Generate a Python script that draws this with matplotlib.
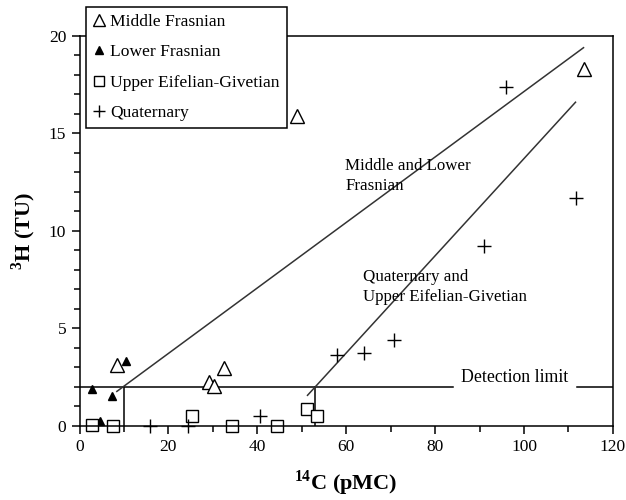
import matplotlib
matplotlib.use("Agg")
import matplotlib.pyplot as plt
from matplotlib.ticker import MultipleLocator

plt.rcParams["font.family"] = ["Liberation Serif", "DejaVu Serif"]
plt.rcParams["mathtext.fontset"] = "custom"
plt.rcParams["mathtext.rm"] = "Liberation Serif"
plt.rcParams["mathtext.bf"] = "Liberation Serif:bold"

# Middle Frasnian (open triangles)
mid_x = [8.4, 29.1, 30.2, 32.4, 49.0, 113.4]
mid_y = [3.1, 2.25, 2.05, 2.95, 15.9, 18.3]
# Lower Frasnian (filled triangles)
low_x = [2.9, 4.6, 7.4, 10.5]
low_y = [1.85, 0.25, 1.5, 3.3]
# Upper Eifelian-Givetian (open squares)
upp_x = [2.7, 7.6, 25.3, 34.3, 44.4, 51.1, 53.4]
upp_y = [0.05, 0.0, 0.5, 0.0, 0.0, 0.85, 0.5]
# Quaternary (plus)
qua_x = [15.9, 24.5, 40.5, 58.0, 64.0, 70.8, 90.9, 96.0, 111.6]
qua_y = [0.0, 0.0, 0.5, 3.6, 3.7, 4.4, 9.2, 17.4, 11.7]

# trend lines
frasnian_line_x = [8.4, 113.4]
frasnian_line_y = [1.75, 19.4]
quaternary_line_x = [51.3, 111.6]
quaternary_line_y = [1.55, 16.6]

detection_limit = 2
cut_x = [10, 53]

fig = plt.figure(figsize=(6.26, 5), dpi=100)
ax = fig.add_axes([0.127, 0.149, 0.852, 0.779])

ax.set_xlim(0, 120)
ax.set_ylim(0, 20)

# detection limit line with gap for label
ax.plot([0, 84], [detection_limit] * 2, color="black", lw=1.1)
ax.plot([112, 120], [detection_limit] * 2, color="black", lw=1.1)
ax.text(98, detection_limit + 0.05, "Detection limit", ha="center",
        va="bottom", fontsize=12.8)
for cx in cut_x:
    ax.plot([cx, cx], [0, detection_limit], color="black", lw=1.1)

ax.plot(frasnian_line_x, frasnian_line_y, color="#333333", lw=1.1)
ax.plot(quaternary_line_x, quaternary_line_y, color="#333333", lw=1.1)

ax.text(59.8, 13.75, "Middle and Lower\nFrasnian", ha="left", va="top",
        fontsize=12.2, linespacing=1.35)
ax.text(63.8, 8.05, "Quaternary and\nUpper Eifelian-Givetian", ha="left",
        va="top", fontsize=12.2, linespacing=1.35)

ax.plot(mid_x, mid_y, "^", ms=10, mfc="white", mec="black", mew=1.0,
        ls="none", clip_on=False, label="Middle Frasnian")
ax.plot(low_x, low_y, "^", ms=6, mfc="black", mec="black",
        ls="none", clip_on=False, label="Lower Frasnian")
ax.plot(upp_x, upp_y, "s", ms=8, mfc="white", mec="black", mew=1.0,
        ls="none", clip_on=False, label="Upper Eifelian-Givetian")
ax.plot(qua_x, qua_y, "+", ms=10, mec="black", mew=1.0,
        ls="none", clip_on=False, label="Quaternary")

ax.xaxis.set_major_locator(MultipleLocator(20))
ax.xaxis.set_minor_locator(MultipleLocator(10))
ax.yaxis.set_major_locator(MultipleLocator(5))
ax.yaxis.set_minor_locator(MultipleLocator(1))
ax.tick_params(which="major", direction="out", length=6, width=1.1,
               labelsize=12.5)
ax.tick_params(which="minor", direction="out", length=4, width=1.1)
for s in ax.spines.values():
    s.set_linewidth(1.1)

ax.set_xlabel(r"$^{\mathbf{14}}$C (pMC)", fontsize=16, fontweight="bold",
              labelpad=10)
ax.set_ylabel(r"$^{\mathbf{3}}$H (TU)", fontsize=16, fontweight="bold",
              labelpad=8)

leg = ax.legend(loc="upper left", bbox_to_anchor=(0.137, 0.986),
                bbox_transform=fig.transFigure, fontsize=12.6,
                handlelength=0.7, handletextpad=0.3, labelspacing=0.8,
                borderpad=0.4, borderaxespad=0, fancybox=False,
                framealpha=1, markerscale=0.85)
leg.get_frame().set_edgecolor("black")
leg.get_frame().set_linewidth(1.1)

fig.savefig("out.png", dpi=100)
